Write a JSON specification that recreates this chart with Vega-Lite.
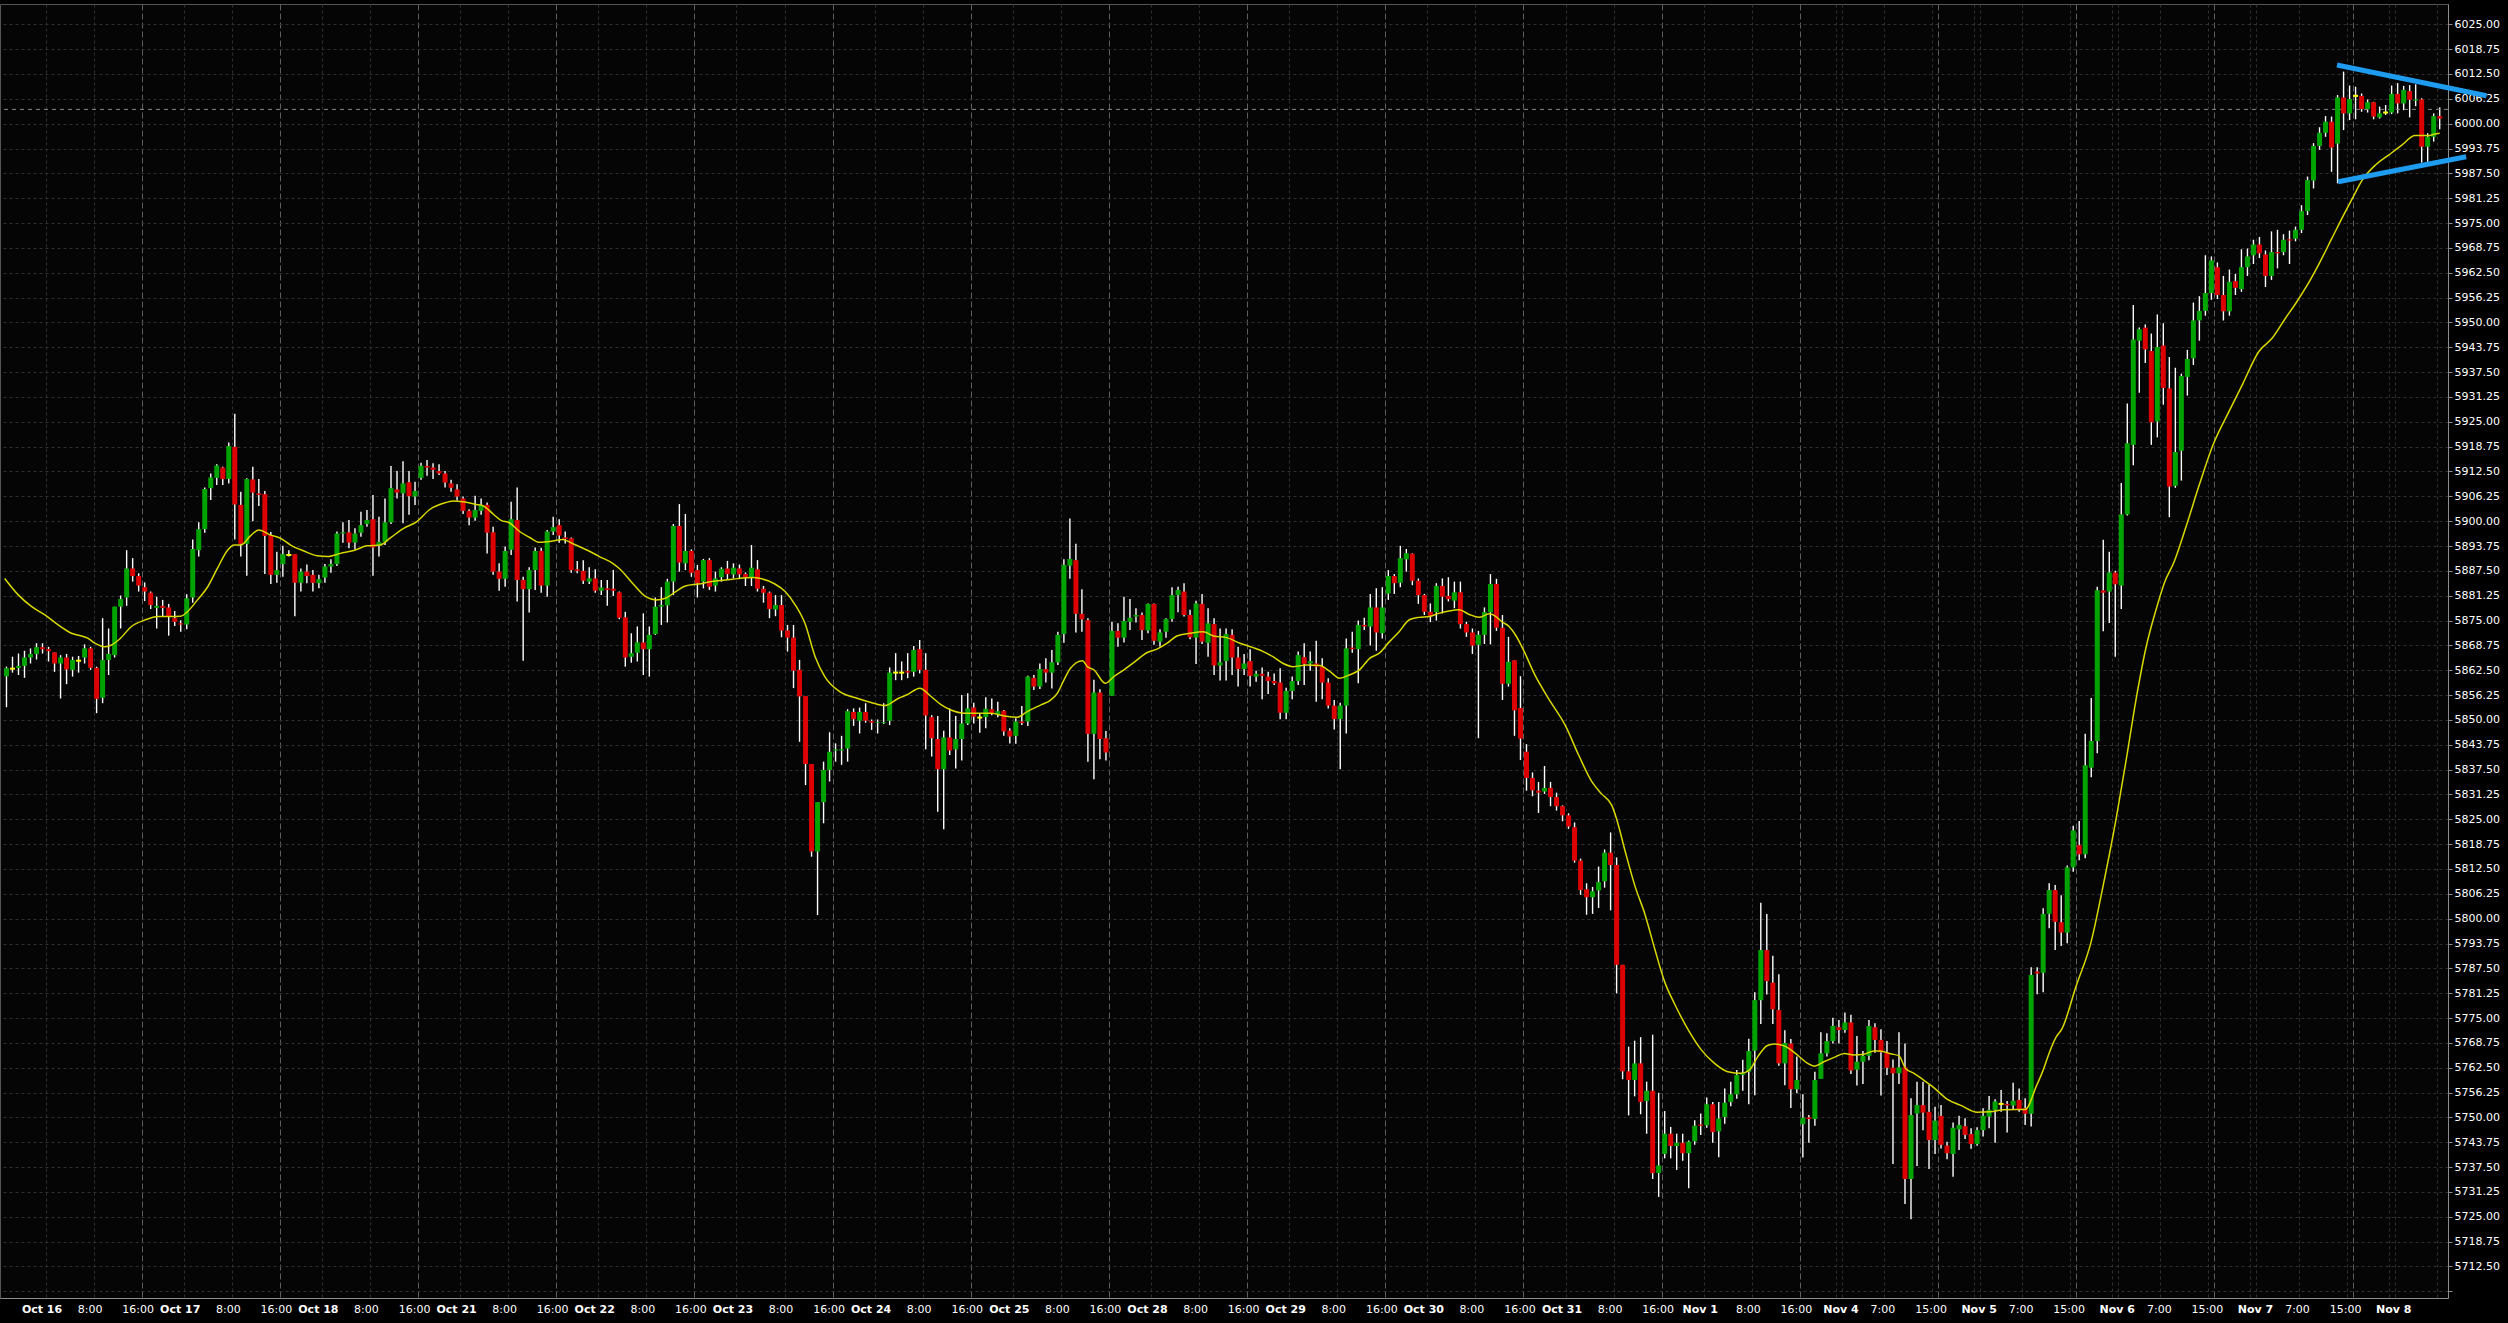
{
"$schema": "https://vega.github.io/schema/vega-lite/v6.json",
"width": 2448, "height": 1294,
"autosize": {"type": "none"},
"padding": {"left": 0, "top": 4, "right": 60, "bottom": 25},
"background": "#000000",
"config": {"view": {"stroke": "#555555", "strokeWidth": 1, "fill": "#050505"}, "axis": {"labelOverlap": false}},
"datasets": {
"candles": [
{"k":0,"o":5861.0,"h":5863.4,"l":5853.2,"c":5863.0},
{"k":1,"o":5862.9,"h":5865.9,"l":5861.9,"c":5862.9},
{"k":2,"o":5863.1,"h":5866.7,"l":5861.3,"c":5863.6},
{"k":3,"o":5863.6,"h":5867.4,"l":5860.6,"c":5865.7},
{"k":4,"o":5865.7,"h":5868.0,"l":5864.2,"c":5866.6},
{"k":5,"o":5866.6,"h":5869.3,"l":5865.2,"c":5868.3},
{"k":6,"o":5868.3,"h":5869.3,"l":5866.7,"c":5867.8},
{"k":7,"o":5867.8,"h":5868.4,"l":5864.7,"c":5867.3},
{"k":8,"o":5867.0,"h":5867.0,"l":5862.1,"c":5864.2},
{"k":9,"o":5864.2,"h":5866.3,"l":5855.4,"c":5865.7},
{"k":10,"o":5865.7,"h":5866.6,"l":5859.0,"c":5862.7},
{"k":11,"o":5862.6,"h":5865.9,"l":5860.9,"c":5865.1},
{"k":12,"o":5864.9,"h":5866.1,"l":5861.9,"c":5864.9},
{"k":13,"o":5865.7,"h":5869.0,"l":5864.2,"c":5868.0},
{"k":14,"o":5868.0,"h":5868.4,"l":5862.6,"c":5863.1},
{"k":15,"o":5863.1,"h":5863.4,"l":5851.7,"c":5855.3},
{"k":16,"o":5855.6,"h":5875.6,"l":5854.2,"c":5865.1},
{"k":17,"o":5865.1,"h":5873.0,"l":5861.3,"c":5866.6},
{"k":18,"o":5866.3,"h":5878.5,"l":5865.7,"c":5878.5},
{"k":19,"o":5878.5,"h":5881.3,"l":5873.0,"c":5880.4},
{"k":20,"o":5880.8,"h":5892.7,"l":5878.7,"c":5888.1},
{"k":21,"o":5888.1,"h":5890.7,"l":5884.8,"c":5886.2},
{"k":22,"o":5886.2,"h":5886.9,"l":5882.3,"c":5883.8},
{"k":23,"o":5883.4,"h":5884.6,"l":5879.9,"c":5882.3},
{"k":24,"o":5882.0,"h":5882.3,"l":5877.9,"c":5878.9},
{"k":25,"o":5878.2,"h":5881.0,"l":5873.0,"c":5878.7},
{"k":26,"o":5878.7,"h":5880.2,"l":5876.0,"c":5878.2},
{"k":27,"o":5878.3,"h":5879.2,"l":5871.2,"c":5876.1},
{"k":28,"o":5875.6,"h":5877.4,"l":5873.6,"c":5874.7},
{"k":29,"o":5874.3,"h":5875.1,"l":5872.2,"c":5874.0},
{"k":30,"o":5874.0,"h":5881.6,"l":5872.8,"c":5880.6},
{"k":31,"o":5880.8,"h":5895.4,"l":5879.5,"c":5893.0},
{"k":32,"o":5892.7,"h":5899.7,"l":5891.1,"c":5898.0},
{"k":33,"o":5898.0,"h":5908.5,"l":5897.1,"c":5908.1},
{"k":34,"o":5908.3,"h":5912.0,"l":5905.3,"c":5911.0},
{"k":35,"o":5910.9,"h":5914.3,"l":5909.1,"c":5914.0},
{"k":36,"o":5913.5,"h":5913.7,"l":5909.1,"c":5910.6},
{"k":37,"o":5910.6,"h":5919.8,"l":5909.5,"c":5918.9},
{"k":38,"o":5918.7,"h":5927.0,"l":5895.4,"c":5904.2},
{"k":39,"o":5904.1,"h":5907.4,"l":5891.1,"c":5894.3},
{"k":40,"o":5894.3,"h":5910.8,"l":5886.3,"c":5910.6},
{"k":41,"o":5910.5,"h":5913.7,"l":5900.0,"c":5907.2},
{"k":42,"o":5907.0,"h":5910.6,"l":5903.8,"c":5906.6},
{"k":43,"o":5906.8,"h":5907.6,"l":5886.7,"c":5896.3},
{"k":44,"o":5896.5,"h":5897.3,"l":5884.2,"c":5886.5},
{"k":45,"o":5886.5,"h":5892.3,"l":5884.5,"c":5887.7},
{"k":46,"o":5889.2,"h":5893.8,"l":5886.0,"c":5891.7},
{"k":47,"o":5891.5,"h":5892.7,"l":5891.1,"c":5891.5},
{"k":48,"o":5891.7,"h":5891.7,"l":5876.1,"c":5884.5},
{"k":49,"o":5884.5,"h":5888.1,"l":5882.3,"c":5887.3},
{"k":50,"o":5887.3,"h":5889.1,"l":5884.4,"c":5886.2},
{"k":51,"o":5886.5,"h":5887.7,"l":5882.3,"c":5884.5},
{"k":52,"o":5884.4,"h":5886.5,"l":5883.1,"c":5885.4},
{"k":53,"o":5885.8,"h":5889.2,"l":5884.5,"c":5888.6},
{"k":54,"o":5888.6,"h":5890.4,"l":5887.0,"c":5889.2},
{"k":55,"o":5889.2,"h":5897.4,"l":5888.7,"c":5896.9},
{"k":56,"o":5896.9,"h":5899.7,"l":5894.6,"c":5897.2},
{"k":57,"o":5897.2,"h":5900.3,"l":5893.2,"c":5894.6},
{"k":58,"o":5894.6,"h":5898.2,"l":5892.9,"c":5896.9},
{"k":59,"o":5897.1,"h":5902.4,"l":5896.1,"c":5899.0},
{"k":60,"o":5899.3,"h":5902.8,"l":5898.6,"c":5900.3},
{"k":61,"o":5900.5,"h":5906.6,"l":5886.3,"c":5893.4},
{"k":62,"o":5893.8,"h":5901.1,"l":5891.1,"c":5894.8},
{"k":63,"o":5894.8,"h":5905.7,"l":5894.0,"c":5899.7},
{"k":64,"o":5899.7,"h":5913.9,"l":5899.3,"c":5908.3},
{"k":65,"o":5908.0,"h":5912.6,"l":5905.7,"c":5907.2},
{"k":66,"o":5907.0,"h":5915.1,"l":5899.5,"c":5909.5},
{"k":67,"o":5909.8,"h":5912.6,"l":5901.6,"c":5906.3},
{"k":68,"o":5906.2,"h":5909.9,"l":5904.1,"c":5907.6},
{"k":69,"o":5910.9,"h":5914.7,"l":5910.4,"c":5913.9},
{"k":70,"o":5913.9,"h":5915.4,"l":5911.4,"c":5913.5},
{"k":71,"o":5913.5,"h":5914.6,"l":5910.6,"c":5912.9},
{"k":72,"o":5912.6,"h":5914.3,"l":5911.6,"c":5912.0},
{"k":73,"o":5912.0,"h":5912.6,"l":5908.5,"c":5909.7},
{"k":74,"o":5909.5,"h":5910.4,"l":5907.4,"c":5908.4},
{"k":75,"o":5908.0,"h":5909.3,"l":5905.2,"c":5906.2},
{"k":76,"o":5905.7,"h":5906.2,"l":5901.8,"c":5902.6},
{"k":77,"o":5902.6,"h":5903.0,"l":5899.0,"c":5900.9},
{"k":78,"o":5900.9,"h":5906.4,"l":5900.1,"c":5902.8},
{"k":79,"o":5902.6,"h":5905.7,"l":5901.6,"c":5904.1},
{"k":80,"o":5904.1,"h":5904.7,"l":5891.9,"c":5897.1},
{"k":81,"o":5897.2,"h":5898.6,"l":5886.5,"c":5887.3},
{"k":82,"o":5887.3,"h":5889.4,"l":5882.5,"c":5885.5},
{"k":83,"o":5885.5,"h":5893.6,"l":5883.5,"c":5892.5},
{"k":84,"o":5892.8,"h":5904.9,"l":5891.5,"c":5900.5},
{"k":85,"o":5900.3,"h":5908.5,"l":5879.8,"c":5885.2},
{"k":86,"o":5885.2,"h":5886.0,"l":5864.9,"c":5882.9},
{"k":87,"o":5882.9,"h":5888.4,"l":5877.0,"c":5887.7},
{"k":88,"o":5887.7,"h":5893.4,"l":5882.7,"c":5892.5},
{"k":89,"o":5892.5,"h":5893.3,"l":5882.0,"c":5883.8},
{"k":90,"o":5883.8,"h":5897.8,"l":5881.0,"c":5897.4},
{"k":91,"o":5897.4,"h":5901.1,"l":5896.5,"c":5898.5},
{"k":92,"o":5899.0,"h":5900.5,"l":5894.6,"c":5896.4},
{"k":93,"o":5895.9,"h":5897.4,"l":5894.4,"c":5895.5},
{"k":94,"o":5895.7,"h":5895.9,"l":5887.0,"c":5887.7},
{"k":95,"o":5887.9,"h":5890.0,"l":5886.9,"c":5887.5},
{"k":96,"o":5887.5,"h":5890.2,"l":5884.2,"c":5885.0},
{"k":97,"o":5884.8,"h":5888.4,"l":5884.2,"c":5885.6},
{"k":98,"o":5885.6,"h":5887.9,"l":5882.0,"c":5882.5},
{"k":99,"o":5882.5,"h":5885.2,"l":5881.4,"c":5883.3},
{"k":100,"o":5883.1,"h":5885.2,"l":5878.7,"c":5882.7},
{"k":101,"o":5883.0,"h":5887.7,"l":5881.2,"c":5882.5},
{"k":102,"o":5882.1,"h":5882.3,"l":5875.3,"c":5875.7},
{"k":103,"o":5875.8,"h":5877.2,"l":5863.4,"c":5865.7},
{"k":104,"o":5865.9,"h":5871.8,"l":5864.4,"c":5866.8},
{"k":105,"o":5866.9,"h":5873.5,"l":5864.7,"c":5869.5},
{"k":106,"o":5869.5,"h":5876.8,"l":5861.3,"c":5867.8},
{"k":107,"o":5867.8,"h":5873.5,"l":5860.9,"c":5871.4},
{"k":108,"o":5871.6,"h":5880.8,"l":5871.4,"c":5878.5},
{"k":109,"o":5878.5,"h":5883.4,"l":5873.9,"c":5878.9},
{"k":110,"o":5878.8,"h":5885.5,"l":5874.5,"c":5884.8},
{"k":111,"o":5884.8,"h":5899.3,"l":5881.4,"c":5898.8},
{"k":112,"o":5898.8,"h":5904.3,"l":5887.3,"c":5889.6},
{"k":113,"o":5889.4,"h":5901.8,"l":5887.7,"c":5892.5},
{"k":114,"o":5892.5,"h":5892.9,"l":5886.0,"c":5887.0},
{"k":115,"o":5887.7,"h":5889.0,"l":5880.8,"c":5884.4},
{"k":116,"o":5884.8,"h":5890.5,"l":5883.1,"c":5890.2},
{"k":117,"o":5890.2,"h":5890.7,"l":5882.7,"c":5883.5},
{"k":118,"o":5883.8,"h":5887.3,"l":5882.3,"c":5885.6},
{"k":119,"o":5885.9,"h":5888.4,"l":5884.8,"c":5888.0},
{"k":120,"o":5888.1,"h":5890.0,"l":5885.2,"c":5886.7},
{"k":121,"o":5886.6,"h":5889.4,"l":5885.6,"c":5888.3},
{"k":122,"o":5888.1,"h":5889.1,"l":5885.6,"c":5886.6},
{"k":123,"o":5886.7,"h":5887.1,"l":5883.7,"c":5885.9},
{"k":124,"o":5885.9,"h":5894.0,"l":5883.7,"c":5888.3},
{"k":125,"o":5887.9,"h":5890.2,"l":5882.3,"c":5883.0},
{"k":126,"o":5883.0,"h":5883.7,"l":5879.5,"c":5882.0},
{"k":127,"o":5882.0,"h":5882.3,"l":5875.6,"c":5877.9},
{"k":128,"o":5877.8,"h":5881.4,"l":5876.1,"c":5878.9},
{"k":129,"o":5878.9,"h":5881.4,"l":5870.8,"c":5872.5},
{"k":130,"o":5872.5,"h":5873.9,"l":5867.2,"c":5870.7},
{"k":131,"o":5870.7,"h":5873.9,"l":5858.0,"c":5862.4},
{"k":132,"o":5862.6,"h":5865.1,"l":5844.5,"c":5855.9},
{"k":133,"o":5856.0,"h":5856.0,"l":5833.6,"c":5838.9},
{"k":134,"o":5838.9,"h":5838.9,"l":5815.6,"c":5816.9},
{"k":135,"o":5816.9,"h":5829.3,"l":5800.9,"c":5829.3},
{"k":136,"o":5829.3,"h":5839.5,"l":5824.0,"c":5837.4},
{"k":137,"o":5837.4,"h":5846.9,"l":5834.5,"c":5842.0},
{"k":138,"o":5842.3,"h":5844.1,"l":5839.5,"c":5842.6},
{"k":139,"o":5842.3,"h":5846.0,"l":5838.7,"c":5842.6},
{"k":140,"o":5842.8,"h":5852.7,"l":5839.5,"c":5852.2},
{"k":141,"o":5852.0,"h":5852.9,"l":5848.5,"c":5850.2},
{"k":142,"o":5849.8,"h":5853.1,"l":5846.6,"c":5852.0},
{"k":143,"o":5852.0,"h":5854.2,"l":5849.3,"c":5849.8},
{"k":144,"o":5849.7,"h":5850.1,"l":5847.5,"c":5849.3},
{"k":145,"o":5849.2,"h":5850.1,"l":5846.6,"c":5849.4},
{"k":146,"o":5849.2,"h":5854.2,"l":5849.0,"c":5849.4},
{"k":147,"o":5849.8,"h":5863.2,"l":5848.7,"c":5861.9},
{"k":148,"o":5861.9,"h":5866.8,"l":5860.0,"c":5861.9},
{"k":149,"o":5861.9,"h":5864.7,"l":5860.0,"c":5861.9},
{"k":150,"o":5862.3,"h":5866.8,"l":5860.5,"c":5861.9},
{"k":151,"o":5862.1,"h":5868.6,"l":5860.9,"c":5867.6},
{"k":152,"o":5867.8,"h":5870.1,"l":5861.7,"c":5862.6},
{"k":153,"o":5862.6,"h":5866.8,"l":5842.6,"c":5851.1},
{"k":154,"o":5850.7,"h":5851.2,"l":5840.8,"c":5845.4},
{"k":155,"o":5845.2,"h":5851.0,"l":5826.9,"c":5837.6},
{"k":156,"o":5837.6,"h":5847.3,"l":5822.5,"c":5845.6},
{"k":157,"o":5845.6,"h":5852.9,"l":5841.2,"c":5842.3},
{"k":158,"o":5842.6,"h":5851.0,"l":5837.8,"c":5845.2},
{"k":159,"o":5845.2,"h":5856.3,"l":5839.8,"c":5849.1},
{"k":160,"o":5849.1,"h":5856.7,"l":5848.7,"c":5852.9},
{"k":161,"o":5853.1,"h":5854.3,"l":5849.1,"c":5850.8},
{"k":162,"o":5850.6,"h":5851.7,"l":5846.8,"c":5850.6},
{"k":163,"o":5850.7,"h":5855.7,"l":5847.9,"c":5852.8},
{"k":164,"o":5852.7,"h":5855.4,"l":5851.2,"c":5851.7},
{"k":165,"o":5851.5,"h":5854.6,"l":5850.7,"c":5852.2},
{"k":166,"o":5852.3,"h":5852.5,"l":5846.0,"c":5847.1},
{"k":167,"o":5847.3,"h":5847.9,"l":5844.1,"c":5845.8},
{"k":168,"o":5846.0,"h":5850.4,"l":5844.0,"c":5849.6},
{"k":169,"o":5849.6,"h":5853.5,"l":5848.7,"c":5849.2},
{"k":170,"o":5849.6,"h":5861.1,"l":5848.5,"c":5860.9},
{"k":171,"o":5860.6,"h":5861.3,"l":5857.5,"c":5858.4},
{"k":172,"o":5858.4,"h":5864.2,"l":5857.8,"c":5862.8},
{"k":173,"o":5862.8,"h":5865.5,"l":5859.4,"c":5861.9},
{"k":174,"o":5861.9,"h":5867.6,"l":5857.9,"c":5864.5},
{"k":175,"o":5864.5,"h":5872.2,"l":5863.8,"c":5871.4},
{"k":176,"o":5871.6,"h":5890.4,"l":5869.4,"c":5889.0},
{"k":177,"o":5888.8,"h":5900.7,"l":5885.5,"c":5890.5},
{"k":178,"o":5890.2,"h":5894.3,"l":5872.0,"c":5876.7},
{"k":179,"o":5876.7,"h":5882.9,"l":5872.2,"c":5875.3},
{"k":180,"o":5875.1,"h":5875.6,"l":5839.5,"c":5846.5},
{"k":181,"o":5846.5,"h":5860.1,"l":5835.1,"c":5856.9},
{"k":182,"o":5856.9,"h":5857.7,"l":5840.1,"c":5845.2},
{"k":183,"o":5845.4,"h":5847.2,"l":5839.8,"c":5841.8},
{"k":184,"o":5856.1,"h":5874.7,"l":5856.1,"c":5872.4},
{"k":185,"o":5872.4,"h":5874.3,"l":5868.4,"c":5870.7},
{"k":186,"o":5870.7,"h":5881.0,"l":5869.5,"c":5874.9},
{"k":187,"o":5874.7,"h":5880.4,"l":5872.6,"c":5875.7},
{"k":188,"o":5876.0,"h":5878.1,"l":5874.5,"c":5876.4},
{"k":189,"o":5876.4,"h":5877.0,"l":5870.1,"c":5872.6},
{"k":190,"o":5872.5,"h":5879.3,"l":5871.8,"c":5879.2},
{"k":191,"o":5879.2,"h":5879.3,"l":5868.9,"c":5869.9},
{"k":192,"o":5869.7,"h":5872.8,"l":5868.4,"c":5872.0},
{"k":193,"o":5872.2,"h":5875.6,"l":5870.7,"c":5875.4},
{"k":194,"o":5875.4,"h":5883.4,"l":5874.7,"c":5881.4},
{"k":195,"o":5881.4,"h":5883.5,"l":5877.1,"c":5882.7},
{"k":196,"o":5882.3,"h":5884.4,"l":5876.0,"c":5876.4},
{"k":197,"o":5876.4,"h":5877.7,"l":5870.3,"c":5870.8},
{"k":198,"o":5870.7,"h":5880.0,"l":5864.1,"c":5879.3},
{"k":199,"o":5879.2,"h":5881.7,"l":5869.1,"c":5869.7},
{"k":200,"o":5869.4,"h":5878.1,"l":5865.9,"c":5874.3},
{"k":201,"o":5874.1,"h":5875.6,"l":5861.3,"c":5863.7},
{"k":202,"o":5863.7,"h":5873.0,"l":5859.9,"c":5864.5},
{"k":203,"o":5864.8,"h":5873.0,"l":5859.9,"c":5871.6},
{"k":204,"o":5871.4,"h":5872.8,"l":5861.3,"c":5865.7},
{"k":205,"o":5865.7,"h":5868.4,"l":5858.4,"c":5862.8},
{"k":206,"o":5862.8,"h":5866.6,"l":5861.3,"c":5864.2},
{"k":207,"o":5864.8,"h":5867.8,"l":5858.4,"c":5861.1},
{"k":208,"o":5860.9,"h":5862.4,"l":5859.6,"c":5861.6},
{"k":209,"o":5861.6,"h":5863.2,"l":5855.2,"c":5861.1},
{"k":210,"o":5860.9,"h":5862.1,"l":5856.5,"c":5859.8},
{"k":211,"o":5859.8,"h":5861.7,"l":5858.8,"c":5859.2},
{"k":212,"o":5859.4,"h":5863.0,"l":5850.2,"c":5851.8},
{"k":213,"o":5851.8,"h":5858.1,"l":5850.2,"c":5857.3},
{"k":214,"o":5857.3,"h":5860.9,"l":5855.2,"c":5859.8},
{"k":215,"o":5859.8,"h":5867.2,"l":5858.8,"c":5866.3},
{"k":216,"o":5865.8,"h":5869.3,"l":5858.8,"c":5864.1},
{"k":217,"o":5864.2,"h":5867.2,"l":5862.4,"c":5864.8},
{"k":218,"o":5864.2,"h":5869.9,"l":5854.6,"c":5863.4},
{"k":219,"o":5863.4,"h":5865.5,"l":5855.2,"c":5859.4},
{"k":220,"o":5859.4,"h":5860.5,"l":5852.9,"c":5853.6},
{"k":221,"o":5853.6,"h":5855.0,"l":5847.6,"c":5850.2},
{"k":222,"o":5850.2,"h":5854.3,"l":5837.6,"c":5853.6},
{"k":223,"o":5853.6,"h":5870.5,"l":5846.6,"c":5868.0},
{"k":224,"o":5868.2,"h":5872.2,"l":5866.9,"c":5867.8},
{"k":225,"o":5867.8,"h":5875.0,"l":5859.2,"c":5873.9},
{"k":226,"o":5873.9,"h":5875.7,"l":5872.6,"c":5873.5},
{"k":227,"o":5873.5,"h":5881.7,"l":5868.7,"c":5878.3},
{"k":228,"o":5878.3,"h":5883.1,"l":5867.4,"c":5872.0},
{"k":229,"o":5871.8,"h":5883.4,"l":5870.5,"c":5878.3},
{"k":230,"o":5881.8,"h":5887.7,"l":5880.2,"c":5886.2},
{"k":231,"o":5886.2,"h":5886.7,"l":5881.7,"c":5884.4},
{"k":232,"o":5884.5,"h":5893.8,"l":5883.4,"c":5890.7},
{"k":233,"o":5890.4,"h":5893.0,"l":5887.3,"c":5891.9},
{"k":234,"o":5891.8,"h":5891.9,"l":5883.9,"c":5885.0},
{"k":235,"o":5885.0,"h":5885.6,"l":5879.2,"c":5881.4},
{"k":236,"o":5881.4,"h":5881.7,"l":5876.4,"c":5877.2},
{"k":237,"o":5877.2,"h":5879.3,"l":5874.6,"c":5876.2},
{"k":238,"o":5877.1,"h":5884.4,"l":5875.0,"c":5883.7},
{"k":239,"o":5883.7,"h":5885.6,"l":5876.8,"c":5881.0},
{"k":240,"o":5881.2,"h":5885.9,"l":5879.8,"c":5880.4},
{"k":241,"o":5880.0,"h":5884.8,"l":5878.1,"c":5882.1},
{"k":242,"o":5882.1,"h":5884.8,"l":5873.0,"c":5874.1},
{"k":243,"o":5874.1,"h":5874.7,"l":5870.9,"c":5872.0},
{"k":244,"o":5872.0,"h":5873.0,"l":5866.6,"c":5868.7},
{"k":245,"o":5868.9,"h":5872.4,"l":5845.4,"c":5871.4},
{"k":246,"o":5871.4,"h":5878.3,"l":5869.1,"c":5877.1},
{"k":247,"o":5877.1,"h":5886.7,"l":5869.0,"c":5884.2},
{"k":248,"o":5884.2,"h":5885.5,"l":5872.4,"c":5873.2},
{"k":249,"o":5873.2,"h":5876.4,"l":5855.0,"c":5859.1},
{"k":250,"o":5859.1,"h":5870.9,"l":5858.4,"c":5864.6},
{"k":251,"o":5865.0,"h":5865.0,"l":5846.0,"c":5852.4},
{"k":252,"o":5853.0,"h":5861.0,"l":5839.9,"c":5845.3},
{"k":253,"o":5842.0,"h":5843.9,"l":5832.2,"c":5835.4},
{"k":254,"o":5835.4,"h":5836.8,"l":5830.8,"c":5832.3},
{"k":255,"o":5832.2,"h":5834.4,"l":5826.6,"c":5831.7},
{"k":256,"o":5832.0,"h":5838.4,"l":5831.4,"c":5832.9},
{"k":257,"o":5832.9,"h":5834.4,"l":5828.3,"c":5830.6},
{"k":258,"o":5830.6,"h":5831.7,"l":5827.2,"c":5828.3},
{"k":259,"o":5828.3,"h":5828.5,"l":5824.5,"c":5826.0},
{"k":260,"o":5826.0,"h":5826.5,"l":5822.6,"c":5823.2},
{"k":261,"o":5823.0,"h":5824.2,"l":5814.1,"c":5814.6},
{"k":262,"o":5814.6,"h":5815.1,"l":5806.0,"c":5807.2},
{"k":263,"o":5807.4,"h":5808.9,"l":5801.0,"c":5805.4},
{"k":264,"o":5805.4,"h":5808.0,"l":5801.2,"c":5806.9},
{"k":265,"o":5807.1,"h":5813.1,"l":5802.7,"c":5809.2},
{"k":266,"o":5809.4,"h":5817.4,"l":5807.8,"c":5816.6},
{"k":267,"o":5816.6,"h":5821.7,"l":5802.1,"c":5813.5},
{"k":268,"o":5813.5,"h":5815.4,"l":5781.2,"c":5788.4},
{"k":269,"o":5788.4,"h":5788.4,"l":5759.6,"c":5761.6},
{"k":270,"o":5761.6,"h":5767.8,"l":5750.5,"c":5759.4},
{"k":271,"o":5759.4,"h":5769.3,"l":5755.3,"c":5763.6},
{"k":272,"o":5763.6,"h":5770.2,"l":5750.8,"c":5753.9},
{"k":273,"o":5754.1,"h":5759.0,"l":5745.9,"c":5756.7},
{"k":274,"o":5756.7,"h":5770.8,"l":5734.5,"c":5736.0},
{"k":275,"o":5736.0,"h":5756.2,"l":5730.0,"c":5737.9},
{"k":276,"o":5740.8,"h":5751.6,"l":5739.7,"c":5745.9},
{"k":277,"o":5745.9,"h":5747.6,"l":5739.7,"c":5742.8},
{"k":278,"o":5742.8,"h":5745.9,"l":5736.8,"c":5743.6},
{"k":279,"o":5743.6,"h":5745.9,"l":5739.1,"c":5741.0},
{"k":280,"o":5741.0,"h":5744.2,"l":5732.2,"c":5743.9},
{"k":281,"o":5744.0,"h":5749.3,"l":5743.1,"c":5747.9},
{"k":282,"o":5748.2,"h":5751.0,"l":5745.6,"c":5747.9},
{"k":283,"o":5748.0,"h":5755.0,"l":5747.4,"c":5753.3},
{"k":284,"o":5753.3,"h":5753.9,"l":5743.6,"c":5746.3},
{"k":285,"o":5746.5,"h":5753.9,"l":5740.0,"c":5749.7},
{"k":286,"o":5750.1,"h":5757.3,"l":5748.4,"c":5753.7},
{"k":287,"o":5753.9,"h":5759.0,"l":5752.8,"c":5755.8},
{"k":288,"o":5755.8,"h":5761.9,"l":5754.7,"c":5760.7},
{"k":289,"o":5760.7,"h":5764.5,"l":5756.7,"c":5761.1},
{"k":290,"o":5761.5,"h":5769.8,"l":5753.3,"c":5766.7},
{"k":291,"o":5766.8,"h":5781.5,"l":5755.6,"c":5779.5},
{"k":292,"o":5779.5,"h":5804.0,"l":5773.5,"c":5792.1},
{"k":293,"o":5792.1,"h":5801.2,"l":5780.9,"c":5784.3},
{"k":294,"o":5783.9,"h":5790.7,"l":5773.5,"c":5777.2},
{"k":295,"o":5777.0,"h":5786.0,"l":5763.0,"c":5763.6},
{"k":296,"o":5763.6,"h":5771.9,"l":5758.1,"c":5768.7},
{"k":297,"o":5768.6,"h":5769.7,"l":5752.4,"c":5757.1},
{"k":298,"o":5757.1,"h":5765.3,"l":5756.1,"c":5759.4},
{"k":299,"o":5748.3,"h":5755.8,"l":5739.9,"c":5749.9},
{"k":300,"o":5750.0,"h":5750.6,"l":5743.6,"c":5749.6},
{"k":301,"o":5749.6,"h":5761.5,"l":5747.9,"c":5759.4},
{"k":302,"o":5759.7,"h":5771.4,"l":5759.7,"c":5766.1},
{"k":303,"o":5766.1,"h":5771.2,"l":5765.3,"c":5769.2},
{"k":304,"o":5769.2,"h":5775.1,"l":5768.6,"c":5773.0},
{"k":305,"o":5772.7,"h":5774.5,"l":5768.6,"c":5772.0},
{"k":306,"o":5772.0,"h":5776.4,"l":5771.3,"c":5773.9},
{"k":307,"o":5773.9,"h":5775.8,"l":5760.9,"c":5761.8},
{"k":308,"o":5762.0,"h":5770.5,"l":5758.0,"c":5764.0},
{"k":309,"o":5764.0,"h":5766.7,"l":5758.4,"c":5765.5},
{"k":310,"o":5765.5,"h":5774.5,"l":5764.4,"c":5773.0},
{"k":311,"o":5772.7,"h":5773.7,"l":5766.3,"c":5769.5},
{"k":312,"o":5769.5,"h":5772.2,"l":5755.5,"c":5766.4},
{"k":313,"o":5766.4,"h":5769.2,"l":5760.7,"c":5762.5},
{"k":314,"o":5762.5,"h":5764.6,"l":5738.3,"c":5761.1},
{"k":315,"o":5761.1,"h":5771.4,"l":5758.4,"c":5762.6},
{"k":316,"o":5762.6,"h":5768.6,"l":5728.2,"c":5734.5},
{"k":317,"o":5734.5,"h":5754.8,"l":5724.4,"c":5750.6},
{"k":318,"o":5751.0,"h":5759.0,"l":5737.8,"c":5753.1},
{"k":319,"o":5753.1,"h":5759.0,"l":5746.8,"c":5751.2},
{"k":320,"o":5751.4,"h":5758.2,"l":5737.0,"c":5744.3},
{"k":321,"o":5744.3,"h":5752.7,"l":5740.8,"c":5749.2},
{"k":322,"o":5750.4,"h":5753.1,"l":5742.2,"c":5743.1},
{"k":323,"o":5742.9,"h":5743.9,"l":5739.5,"c":5741.0},
{"k":324,"o":5740.8,"h":5748.7,"l":5735.1,"c":5747.4},
{"k":325,"o":5747.0,"h":5750.4,"l":5741.8,"c":5748.1},
{"k":326,"o":5747.8,"h":5749.8,"l":5744.6,"c":5745.6},
{"k":327,"o":5745.8,"h":5747.3,"l":5742.1,"c":5743.3},
{"k":328,"o":5743.3,"h":5747.5,"l":5742.9,"c":5746.8},
{"k":329,"o":5746.8,"h":5752.3,"l":5745.2,"c":5750.4},
{"k":330,"o":5750.2,"h":5755.4,"l":5747.3,"c":5751.9},
{"k":331,"o":5751.9,"h":5754.6,"l":5743.6,"c":5754.0},
{"k":332,"o":5753.4,"h":5756.9,"l":5751.4,"c":5753.4},
{"k":333,"o":5753.4,"h":5754.1,"l":5746.2,"c":5753.0},
{"k":334,"o":5753.0,"h":5758.7,"l":5751.9,"c":5754.2},
{"k":335,"o":5754.4,"h":5757.3,"l":5751.4,"c":5752.1},
{"k":336,"o":5752.3,"h":5754.8,"l":5748.1,"c":5750.9},
{"k":337,"o":5750.9,"h":5787.8,"l":5747.7,"c":5785.8},
{"k":338,"o":5786.7,"h":5787.8,"l":5781.0,"c":5786.2},
{"k":339,"o":5786.4,"h":5802.6,"l":5781.5,"c":5801.2},
{"k":340,"o":5801.2,"h":5808.9,"l":5797.6,"c":5807.2},
{"k":341,"o":5807.2,"h":5808.5,"l":5792.1,"c":5799.2},
{"k":342,"o":5799.1,"h":5805.9,"l":5793.1,"c":5796.5},
{"k":343,"o":5796.5,"h":5813.4,"l":5793.8,"c":5812.9},
{"k":344,"o":5812.9,"h":5823.4,"l":5811.8,"c":5822.2},
{"k":345,"o":5818.5,"h":5824.6,"l":5814.7,"c":5816.2},
{"k":346,"o":5816.2,"h":5846.5,"l":5815.2,"c":5838.6},
{"k":347,"o":5838.0,"h":5855.5,"l":5835.6,"c":5844.7},
{"k":348,"o":5844.7,"h":5883.5,"l":5841.6,"c":5882.6},
{"k":349,"o":5882.6,"h":5895.3,"l":5872.3,"c":5882.0},
{"k":350,"o":5882.3,"h":5892.3,"l":5874.4,"c":5887.1},
{"k":351,"o":5887.1,"h":5887.5,"l":5865.9,"c":5884.1},
{"k":352,"o":5883.8,"h":5909.6,"l":5877.9,"c":5901.7},
{"k":353,"o":5901.7,"h":5929.6,"l":5901.4,"c":5919.6},
{"k":354,"o":5919.2,"h":5954.4,"l":5914.1,"c":5945.7},
{"k":355,"o":5945.4,"h":5948.7,"l":5932.3,"c":5948.3},
{"k":356,"o":5948.7,"h":5949.5,"l":5939.8,"c":5943.2},
{"k":357,"o":5942.8,"h":5947.2,"l":5919.2,"c":5924.9},
{"k":358,"o":5925.1,"h":5952.0,"l":5921.1,"c":5943.8},
{"k":359,"o":5944.2,"h":5949.8,"l":5929.3,"c":5933.5},
{"k":360,"o":5933.4,"h":5941.3,"l":5901.0,"c":5908.7},
{"k":361,"o":5908.9,"h":5938.6,"l":5908.4,"c":5917.4},
{"k":362,"o":5917.7,"h":5937.1,"l":5910.2,"c":5936.5},
{"k":363,"o":5936.3,"h":5943.1,"l":5931.6,"c":5940.8},
{"k":364,"o":5941.0,"h":5955.0,"l":5939.3,"c":5950.5},
{"k":365,"o":5950.5,"h":5956.6,"l":5945.4,"c":5952.9},
{"k":366,"o":5952.9,"h":5966.9,"l":5951.7,"c":5957.4},
{"k":367,"o":5957.4,"h":5966.6,"l":5955.7,"c":5965.6},
{"k":368,"o":5963.9,"h":5965.1,"l":5955.9,"c":5956.9},
{"k":369,"o":5956.9,"h":5961.7,"l":5950.5,"c":5952.8},
{"k":370,"o":5952.8,"h":5963.3,"l":5951.7,"c":5960.2},
{"k":371,"o":5960.4,"h":5962.2,"l":5956.9,"c":5958.7},
{"k":372,"o":5958.4,"h":5968.4,"l":5957.7,"c":5963.9},
{"k":373,"o":5963.9,"h":5968.6,"l":5961.7,"c":5966.6},
{"k":374,"o":5966.9,"h":5970.8,"l":5964.7,"c":5969.6},
{"k":375,"o":5969.6,"h":5971.5,"l":5966.2,"c":5967.4},
{"k":376,"o":5967.1,"h":5968.1,"l":5958.9,"c":5961.7},
{"k":377,"o":5961.7,"h":5972.9,"l":5960.7,"c":5967.7},
{"k":378,"o":5967.7,"h":5973.3,"l":5963.6,"c":5967.4},
{"k":379,"o":5967.7,"h":5972.2,"l":5966.9,"c":5970.8},
{"k":380,"o":5970.9,"h":5973.1,"l":5964.7,"c":5970.6},
{"k":381,"o":5971.1,"h":5974.1,"l":5970.4,"c":5973.3},
{"k":382,"o":5973.3,"h":5979.5,"l":5972.5,"c":5978.0},
{"k":383,"o":5978.0,"h":5986.7,"l":5977.0,"c":5985.8},
{"k":384,"o":5985.7,"h":5995.1,"l":5983.7,"c":5994.4},
{"k":385,"o":5994.4,"h":5999.1,"l":5993.4,"c":5997.7},
{"k":386,"o":5997.7,"h":6001.9,"l":5996.7,"c":6000.5},
{"k":387,"o":6000.5,"h":6001.8,"l":5987.9,"c":5994.0},
{"k":388,"o":5995.0,"h":6007.2,"l":5985.0,"c":6006.6},
{"k":389,"o":6006.6,"h":6013.1,"l":5998.4,"c":6002.6},
{"k":390,"o":6002.6,"h":6009.6,"l":6000.9,"c":6006.2},
{"k":391,"o":6007.0,"h":6009.3,"l":6001.1,"c":6007.0},
{"k":392,"o":6007.0,"h":6007.6,"l":6003.0,"c":6003.7},
{"k":393,"o":6003.7,"h":6006.1,"l":6002.8,"c":6005.4},
{"k":394,"o":6005.4,"h":6005.5,"l":6001.1,"c":6001.8},
{"k":395,"o":6001.6,"h":6004.3,"l":6001.3,"c":6002.6},
{"k":396,"o":6002.8,"h":6004.7,"l":6002.2,"c":6002.8},
{"k":397,"o":6002.8,"h":6009.6,"l":6002.4,"c":6007.5},
{"k":398,"o":6007.5,"h":6010.2,"l":6002.6,"c":6005.1},
{"k":399,"o":6005.1,"h":6009.5,"l":6003.4,"c":6008.5},
{"k":400,"o":6008.2,"h":6009.7,"l":6001.6,"c":6006.0},
{"k":401,"o":6005.8,"h":6009.9,"l":6004.4,"c":6006.1},
{"k":402,"o":6006.1,"h":6006.4,"l":5990.2,"c":5994.2},
{"k":403,"o":5994.2,"h":5997.6,"l":5990.4,"c":5996.7},
{"k":404,"o":5996.7,"h":6002.6,"l":5995.5,"c":6001.9},
{"k":405,"o":6001.9,"h":6004.1,"l":5998.6,"c":6001.3}
],
"ma": [
{"k":-0.3,"v":5885.6},{"k":2.0,"v":5881.4},{"k":4.2,"v":5878.5},{"k":6.4,"v":5876.4},{"k":8.6,"v":5873.9},{"k":10.8,"v":5871.8},{"k":12.5,"v":5871.1},{"k":13.6,"v":5870.5},{"k":14.7,"v":5869.3},{"k":16.3,"v":5868.4},{"k":17.4,"v":5868.8},{"k":18.8,"v":5870.3},{"k":20.8,"v":5873.5},{"k":23.0,"v":5875.1},{"k":25.2,"v":5876.0},{"k":27.4,"v":5876.0},{"k":29.0,"v":5876.1},{"k":30.1,"v":5877.2},{"k":31.8,"v":5880.2},{"k":33.5,"v":5883.5},{"k":35.1,"v":5888.1},{"k":36.8,"v":5892.7},{"k":37.9,"v":5894.0},{"k":39.0,"v":5894.0},{"k":40.6,"v":5896.3},{"k":42.0,"v":5897.8},{"k":44.0,"v":5896.5},{"k":45.6,"v":5895.7},{"k":47.3,"v":5894.0},{"k":49.5,"v":5892.5},{"k":51.7,"v":5891.3},{"k":53.4,"v":5891.1},{"k":55.6,"v":5891.9},{"k":57.8,"v":5892.6},{"k":60.0,"v":5893.8},{"k":62.2,"v":5894.0},{"k":63.9,"v":5895.8},{"k":66.1,"v":5898.2},{"k":68.3,"v":5899.9},{"k":70.5,"v":5903.0},{"k":72.7,"v":5904.5},{"k":74.4,"v":5905.1},{"k":76.0,"v":5904.9},{"k":78.2,"v":5904.2},{"k":79.3,"v":5903.9},{"k":81.0,"v":5901.8},{"k":82.3,"v":5900.2},{"k":83.7,"v":5899.6},{"k":85.4,"v":5897.4},{"k":87.1,"v":5895.9},{"k":88.7,"v":5894.7},{"k":90.9,"v":5895.0},{"k":92.6,"v":5895.4},{"k":94.2,"v":5894.4},{"k":96.5,"v":5892.8},{"k":98.7,"v":5891.1},{"k":100.9,"v":5889.4},{"k":102.0,"v":5888.1},{"k":104.2,"v":5884.4},{"k":106.4,"v":5881.0},{"k":108.1,"v":5880.2},{"k":109.7,"v":5880.6},{"k":111.4,"v":5882.3},{"k":113.0,"v":5883.7},{"k":115.2,"v":5884.2},{"k":117.4,"v":5884.8},{"k":119.7,"v":5885.2},{"k":121.9,"v":5885.6},{"k":124.1,"v":5885.8},{"k":125.7,"v":5885.5},{"k":127.9,"v":5884.2},{"k":129.6,"v":5882.3},{"k":131.3,"v":5878.9},{"k":132.9,"v":5874.3},{"k":134.6,"v":5865.9},{"k":136.2,"v":5860.9},{"k":138.7,"v":5857.1},{"k":141.7,"v":5855.4},{"k":143.9,"v":5854.4},{"k":146.2,"v":5853.6},{"k":148.4,"v":5855.4},{"k":150.0,"v":5856.4},{"k":152.0,"v":5858.0},{"k":153.9,"v":5855.9},{"k":155.6,"v":5853.8},{"k":157.2,"v":5852.5},{"k":159.5,"v":5851.7},{"k":161.6,"v":5851.7},{"k":163.9,"v":5851.7},{"k":166.1,"v":5851.0},{"k":168.3,"v":5850.7},{"k":169.9,"v":5852.1},{"k":172.2,"v":5853.8},{"k":173.8,"v":5855.0},{"k":174.9,"v":5856.7},{"k":176.0,"v":5860.0},{"k":177.1,"v":5863.0},{"k":179.1,"v":5864.9},{"k":179.9,"v":5863.4},{"k":181.0,"v":5862.6},{"k":182.9,"v":5859.2},{"k":184.3,"v":5860.9},{"k":186.0,"v":5862.6},{"k":187.6,"v":5864.4},{"k":189.8,"v":5866.9},{"k":191.5,"v":5867.8},{"k":193.2,"v":5869.3},{"k":194.8,"v":5871.1},{"k":197.0,"v":5871.8},{"k":199.2,"v":5872.2},{"k":200.9,"v":5871.1},{"k":203.1,"v":5870.7},{"k":205.3,"v":5869.3},{"k":207.5,"v":5868.2},{"k":209.2,"v":5867.2},{"k":210.8,"v":5865.9},{"k":212.5,"v":5864.2},{"k":214.2,"v":5863.4},{"k":216.3,"v":5863.8},{"k":218.6,"v":5863.7},{"k":220.2,"v":5862.3},{"k":221.9,"v":5860.5},{"k":223.5,"v":5861.3},{"k":225.2,"v":5862.6},{"k":226.9,"v":5865.5},{"k":228.5,"v":5866.8},{"k":230.2,"v":5869.7},{"k":231.8,"v":5872.2},{"k":233.5,"v":5875.2},{"k":235.1,"v":5875.8},{"k":236.8,"v":5876.0},{"k":238.4,"v":5876.8},{"k":240.1,"v":5877.4},{"k":241.8,"v":5877.7},{"k":243.4,"v":5876.6},{"k":245.1,"v":5875.8},{"k":246.8,"v":5876.7},{"k":247.8,"v":5876.1},{"k":248.9,"v":5874.7},{"k":250.1,"v":5873.5},{"k":251.2,"v":5871.3},{"k":252.3,"v":5868.2},{"k":254.5,"v":5861.0},{"k":256.7,"v":5855.3},{"k":259.5,"v":5848.5},{"k":261.7,"v":5841.1},{"k":263.9,"v":5834.4},{"k":265.5,"v":5831.4},{"k":267.2,"v":5828.5},{"k":268.0,"v":5825.1},{"k":269.4,"v":5817.1},{"k":271.1,"v":5808.0},{"k":272.7,"v":5801.2},{"k":274.4,"v":5792.1},{"k":276.0,"v":5784.1},{"k":277.7,"v":5778.4},{"k":279.9,"v":5772.1},{"k":282.1,"v":5767.0},{"k":284.3,"v":5763.6},{"k":286.5,"v":5761.5},{"k":288.7,"v":5761.1},{"k":290.1,"v":5761.9},{"k":291.5,"v":5765.3},{"k":293.1,"v":5768.1},{"k":294.2,"v":5768.5},{"k":295.9,"v":5768.0},{"k":297.0,"v":5767.0},{"k":298.1,"v":5765.7},{"k":299.8,"v":5763.6},{"k":300.9,"v":5762.9},{"k":302.5,"v":5764.0},{"k":304.2,"v":5765.1},{"k":305.9,"v":5766.1},{"k":307.5,"v":5765.7},{"k":309.2,"v":5765.9},{"k":310.8,"v":5766.7},{"k":311.9,"v":5766.7},{"k":313.6,"v":5766.0},{"k":315.0,"v":5765.5},{"k":316.1,"v":5762.3},{"k":317.5,"v":5761.1},{"k":319.1,"v":5759.4},{"k":320.8,"v":5757.5},{"k":323.0,"v":5754.6},{"k":325.2,"v":5753.1},{"k":328.0,"v":5751.3},{"k":330.2,"v":5751.4},{"k":332.4,"v":5751.9},{"k":334.6,"v":5752.0},{"k":336.0,"v":5752.0},{"k":337.9,"v":5758.0},{"k":339.0,"v":5761.9},{"k":340.1,"v":5766.6},{"k":341.2,"v":5770.3},{"k":342.1,"v":5772.2},{"k":344.5,"v":5783.1},{"k":347.0,"v":5794.3},{"k":348.9,"v":5807.7},{"k":351.2,"v":5825.6},{"k":352.8,"v":5839.8},{"k":354.5,"v":5855.5},{"k":356.1,"v":5868.1},{"k":357.8,"v":5877.8},{"k":359.2,"v":5884.6},{"k":360.8,"v":5889.8},{"k":362.8,"v":5898.7},{"k":365.0,"v":5909.2},{"k":367.2,"v":5918.9},{"k":370.0,"v":5927.8},{"k":372.2,"v":5934.5},{"k":374.9,"v":5942.7},{"k":377.1,"v":5946.0},{"k":379.3,"v":5951.0},{"k":381.0,"v":5954.7},{"k":383.0,"v":5959.5},{"k":385.0,"v":5965.0},{"k":387.0,"v":5971.0},{"k":389.0,"v":5977.0},{"k":390.4,"v":5981.0},{"k":392.1,"v":5985.8},{"k":394.3,"v":5989.6},{"k":396.5,"v":5992.1},{"k":398.7,"v":5994.6},{"k":400.9,"v":5997.0},{"k":402.0,"v":5997.0},{"k":403.1,"v":5997.0},{"k":404.2,"v":5997.4},{"k":405.0,"v":5997.6}
],
"tl": [
{"g":"upper","k":387.9,"p":6014.76},{"g":"upper","k":412.8,"p":6007.04},
{"g":"lower","k":388.1,"p":5985.4},{"g":"lower","k":409.4,"p":5991.7}
],
"px": [{"p":6003.6}]
},
"layer": [
{
"data": {"name": "candles"},
"mark": {"type": "rule", "color": "#ffffff", "strokeWidth": 1.4},
"encoding": {
"x": {"field": "k", "type": "quantitative", "title": null,
"scale": {"domain": [-0.247, 405.55], "nice": false, "zero": false},
"axis": {"orient": "bottom", "title": null, "tickCount": 200,
"values": [6.5,14.5,22.5,29.5,37.5,45.5,52.5,60.5,68.5,75.5,83.5,91.5,98.5,106.5,114.5,121.5,129.5,137.5,144.5,152.5,160.5,167.5,175.5,183.5,190.5,198.5,206.5,213.5,221.5,229.5,236.5,244.5,252.5,259.5,267.5,275.5,282.5,290.5,298.5,304.5,305.5,312.5,320.5,321.5,327.5,328.5,335.5,343.5,344.5,350.5,351.5,358.5,366.5,367.5,373.5,374.5,381.5,389.5,390.5,396.5,397.5,404.5],
"labelExpr": "['Oct 16','8:00','16:00','Oct 17','8:00','16:00','Oct 18','8:00','16:00','Oct 21','8:00','16:00','Oct 22','8:00','16:00','Oct 23','8:00','16:00','Oct 24','8:00','16:00','Oct 25','8:00','16:00','Oct 28','8:00','16:00','Oct 29','8:00','16:00','Oct 30','8:00','16:00','Oct 31','8:00','16:00','Nov 1','8:00','16:00','','Nov 4','7:00','15:00','','','Nov 5','7:00','15:00','','','Nov 6','7:00','15:00','','','Nov 7','7:00','15:00','','','Nov 8',''][indexof([6.5,14.5,22.5,29.5,37.5,45.5,52.5,60.5,68.5,75.5,83.5,91.5,98.5,106.5,114.5,121.5,129.5,137.5,144.5,152.5,160.5,167.5,175.5,183.5,190.5,198.5,206.5,213.5,221.5,229.5,236.5,244.5,252.5,259.5,267.5,275.5,282.5,290.5,298.5,304.5,305.5,312.5,320.5,321.5,327.5,328.5,335.5,343.5,344.5,350.5,351.5,358.5,366.5,367.5,373.5,374.5,381.5,389.5,390.5,396.5,397.5,404.5], datum.value)]",
"labelOffset": {"condition": {"test": "datum.value > 300", "value": -1.5}, "value": -4},
"labelFontWeight": {"condition": {"test": "indexof([6.5,29.5,52.5,75.5,98.5,121.5,144.5,167.5,190.5,213.5,236.5,259.5,282.5,305.5,328.5,351.5,374.5,397.5], datum.value) >= 0", "value": "bold"}, "value": "normal"},
"labelColor": "#ffffff", "labelFont": "DejaVu Sans", "labelFontSize": 11,
"labelPadding": 5, "labelOverlap": false, "labelBound": false, "labelFlush": false,
"ticks": false,
"domainColor": "#8c8c8c", "domainWidth": 1,
"grid": true,
"gridColor": {"condition": {"test": "indexof([22.5,45.5,68.5,91.5,114.5,137.5,160.5,183.5,206.5,229.5,252.5,275.5,298.5,321.5,344.5,367.5,390.5], datum.value) >= 0", "value": "#5e5e5e"}, "value": "#303030"},
"gridDash": {"condition": {"test": "indexof([22.5,45.5,68.5,91.5,114.5,137.5,160.5,183.5,206.5,229.5,252.5,275.5,298.5,321.5,344.5,367.5,390.5], datum.value) >= 0", "value": [6, 3]}, "value": [3, 3]},
"gridWidth": 1}
},
"y": {"field": "l", "type": "quantitative", "title": null,
"scale": {"domain": [5704.57, 6030.11], "nice": false, "zero": false},
"axis": {"orient": "right", "title": null, "tickCount": 200,
"values": [5706.25,5712.5,5718.75,5725,5731.25,5737.5,5743.75,5750,5756.25,5762.5,5768.75,5775,5781.25,5787.5,5793.75,5800,5806.25,5812.5,5818.75,5825,5831.25,5837.5,5843.75,5850,5856.25,5862.5,5868.75,5875,5881.25,5887.5,5893.75,5900,5906.25,5912.5,5918.75,5925,5931.25,5937.5,5943.75,5950,5956.25,5962.5,5968.75,5975,5981.25,5987.5,5993.75,6000,6006.25,6012.5,6018.75,6025],
"format": ".2f",
"labelExpr": "datum.value < 5710 ? '' : datum.label",
"labelColor": "#ffffff", "labelFont": "DejaVu Sans", "labelFontSize": 11,
"labelPadding": 2, "labelOverlap": false, "labelBound": false, "labelFlush": false,
"tickSize": 4, "tickColor": "#8c8c8c", "tickWidth": 1,
"domainColor": "#8c8c8c", "domainWidth": 1,
"grid": true, "gridColor": "#303030", "gridDash": [3, 3], "gridWidth": 1}
},
"y2": {"field": "h"}
}
},
{
"data": {"name": "px"},
"mark": {"type": "rule", "color": "#8a8a8a", "strokeWidth": 1, "strokeDash": [4, 4]},
"encoding": {
"y": {"field": "p", "type": "quantitative", "title": null}
}
},
{
"data": {"name": "candles"},
"mark": {"type": "bar", "width": 5, "orient": "vertical"},
"encoding": {
"x": {"field": "k", "type": "quantitative", "title": null},
"y": {"field": "o", "type": "quantitative", "title": null},
"y2": {"field": "c"},
"color": {"condition": [{"test": "datum.c > datum.o", "value": "#00a400"}, {"test": "datum.c < datum.o", "value": "#dc0000"}], "value": "#ffff00"}
}
},
{
"data": {"name": "candles"},
"transform": [{"filter": "datum.o == datum.c"}],
"mark": {"type": "tick", "orient": "horizontal", "color": "#ffff00", "size": 5, "thickness": 2, "opacity": 1},
"encoding": {
"x": {"field": "k", "type": "quantitative", "title": null},
"y": {"field": "c", "type": "quantitative", "title": null}
}
},
{
"data": {"name": "ma"},
"mark": {"type": "line", "color": "#d8d800", "strokeWidth": 1.5, "interpolate": "monotone"},
"encoding": {
"x": {"field": "k", "type": "quantitative", "title": null},
"y": {"field": "v", "type": "quantitative", "title": null}
}
},
{
"data": {"name": "tl"},
"mark": {"type": "line", "color": "#1e9cf0", "strokeWidth": 5, "clip": false, "strokeCap": "butt"},
"encoding": {
"x": {"field": "k", "type": "quantitative", "title": null},
"y": {"field": "p", "type": "quantitative", "title": null},
"detail": {"field": "g"}
}
}
]
}
